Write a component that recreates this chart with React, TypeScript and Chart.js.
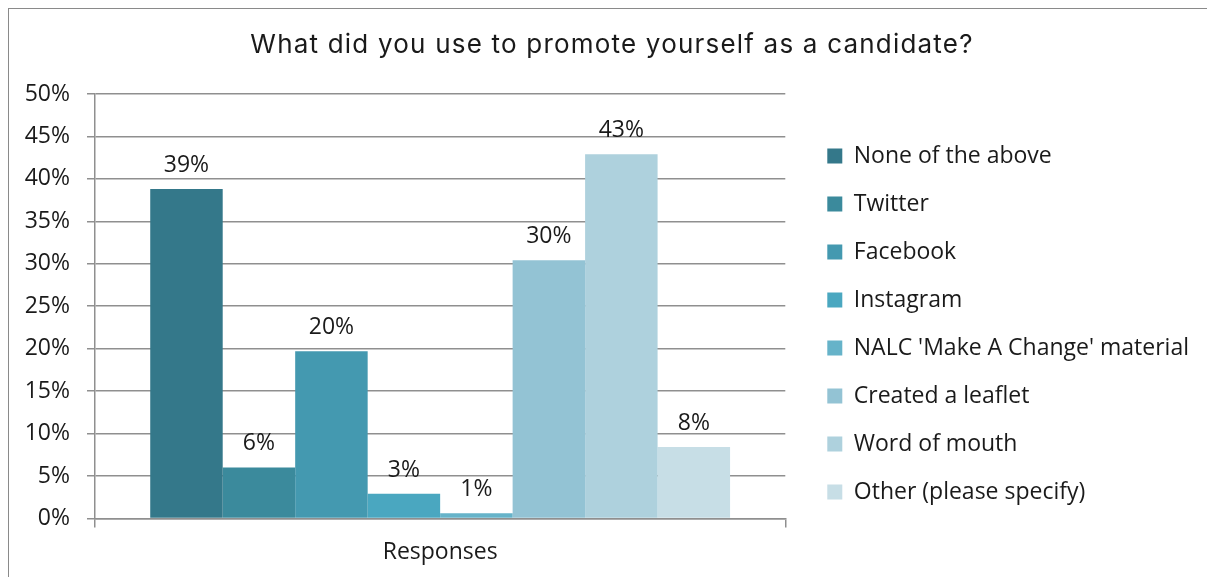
import React, { useEffect, useRef } from "react";
import { Chart, registerables } from "chart.js";

Chart.register(...registerables);

const categories = ["Responses"];
const seriesNames = [
  "None of the above",
  "Twitter",
  "Facebook",
  "Instagram",
  "NALC 'Make A Change' material",
  "Created a leaflet",
  "Word of mouth",
  "Other (please specify)",
];
const seriesValues = [38.8, 6.0, 19.7, 2.9, 0.6, 30.4, 42.9, 8.4];
const seriesColors = [
  "#34788A",
  "#3B8A9C",
  "#4499B0",
  "#4AA7C0",
  "#66B3C9",
  "#93C3D4",
  "#AED1DD",
  "#C7DEE6",
];
const titleText = "What did you use to promote yourself as a candidate?";
const FONT = "'Open Sans', sans-serif";
const TITLE_FONT = "Inter, sans-serif";
const GRID = "#8f8f8f";

const dataLabelPlugin = {
  id: "dataLabels",
  afterDatasetsDraw(chart: any) {
    const ctx = chart.ctx;
    ctx.save();
    ctx.font = `23px ${FONT}`;
    ctx.fillStyle = "#1a1a1a";
    ctx.textAlign = "center";
    ctx.textBaseline = "alphabetic";
    chart.data.datasets.forEach((ds: any, i: number) => {
      const meta = chart.getDatasetMeta(i);
      meta.data.forEach((bar: any, j: number) => {
        const v = ds.data[j];
        ctx.fillText(`${Math.round(v)}%`, bar.x, bar.y - 17);
      });
    });
    ctx.restore();
  },
};

const titleSpacingPlugin = {
  id: "titleSpacing",
  beforeDraw(chart: any) {
    const tb = chart.titleBlock;
    if (tb && !tb._spaced) {
      const orig = tb.draw.bind(tb);
      tb.draw = (...args: any[]) => {
        const c = tb.ctx;
        c.save();
        c.letterSpacing = "1.2px";
        c.translate(8, 0);
        orig(...args);
        c.restore();
      };
      tb._spaced = true;
    }
  },
};

export default function App() {
  const ref = useRef<HTMLCanvasElement>(null);
  useEffect(() => {
    if (!ref.current) return;
    const chart = new Chart(ref.current, {
      type: "bar",
      data: {
        labels: categories,
        datasets: seriesNames.map((name, i) => ({
          label: name,
          data: [seriesValues[i]],
          backgroundColor: seriesColors[i],
          borderWidth: 0,
          categoryPercentage: 0.84,
          barPercentage: 1,
        })),
      },
      options: {
        animation: false,
        responsive: true,
        maintainAspectRatio: false,
        layout: { padding: { left: 0, right: 16, top: 0, bottom: 0 } },
        plugins: {
          title: {
            display: true,
            text: titleText,
            color: "#1a1a1a",
            font: { family: TITLE_FONT, size: 26, weight: "normal" as any },
            lineHeight: 1.2,
            padding: { top: 20.4, bottom: 33.4 },
          },
          legend: {
            display: true,
            position: "right",
            maxWidth: 460,
            title: {
              display: true,
              text: "",
              padding: { top: 0, bottom: 32 },
              font: { size: 25 },
            },
            labels: {
              font: { family: FONT, size: 23 },
              color: "#1a1a1a",
              boxWidth: 15,
              boxHeight: 15,
              padding: 25,
            },
          },
          tooltip: { enabled: false },
        },
        scales: {
          x: {
            grid: {
              display: true,
              drawOnChartArea: false,
              offset: true,
              color: GRID,
              lineWidth: 1.5,
              tickLength: 9,
            },
            border: { display: true, color: GRID, width: 1.5 },
            ticks: {
              color: "#1a1a1a",
              font: { family: FONT, size: 23 },
              padding: 11,
            },
          },
          y: {
            min: 0,
            max: 50,
            ticks: {
              stepSize: 5,
              color: "#1a1a1a",
              font: { family: FONT, size: 23 },
              padding: 17,
              callback: (v: any) => `${v}%`,
            },
            grid: { color: GRID, lineWidth: 1.5, tickLength: 8 },
            border: { display: true, color: GRID, width: 1.5 },
            afterFit: (s: any) => {
              s.width = 86;
            },
          },
          gap: {
            type: "linear",
            position: "right",
            display: true,
            grid: { display: false, drawTicks: false },
            border: { display: false },
            ticks: { display: false },
            afterFit: (s: any) => {
              s.width = 17;
            },
          },
        },
      },
      plugins: [dataLabelPlugin, titleSpacingPlugin],
    });
    return () => chart.destroy();
  }, []);
  return (
    <div
      style={{
        width: 1208,
        height: 570,
        margin: "-1px 0 0 -1px",
        boxSizing: "border-box",
        borderTop: "2px solid #8a8a8a",
        borderLeft: "2px solid #8a8a8a",
        position: "relative",
        overflow: "hidden",
      }}
    >
      <div style={{ position: "relative", width: "100%", height: "100%" }}>
        <canvas ref={ref} />
      </div>
    </div>
  );
}
